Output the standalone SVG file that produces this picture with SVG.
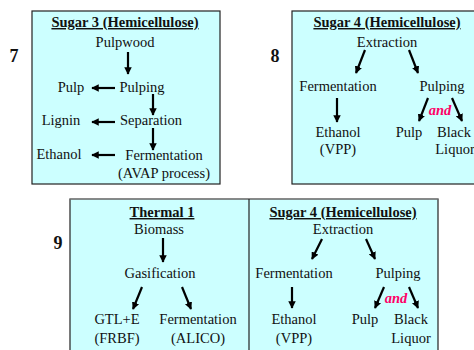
<svg xmlns="http://www.w3.org/2000/svg" width="474" height="350" viewBox="0 0 474 350">
<style>
.box{fill:#ccffff;stroke:#222;stroke-width:1.2}
text{font-family:'Liberation Serif',serif;font-size:14.5px;fill:#111;text-anchor:middle}
.t{font-weight:bold;text-decoration:underline}
.num{font-weight:bold;font-size:18px}
.and{font-weight:bold;font-style:italic;fill:#ff0066}
.a{stroke:#000;stroke-width:2.2;fill:none;marker-end:url(#ah)}
</style>
<defs>
<marker id="ah" viewBox="0 0 10 10" refX="9" refY="5" markerWidth="3.4" markerHeight="3.4" orient="auto" markerUnits="strokeWidth">
<path d="M0,0 L10,5 L0,10 Z" fill="#000"/>
</marker>
</defs>
<rect width="474" height="350" fill="#fff"/>

<g id="panel7">
<rect class="box" x="32" y="11" width="188" height="173"/>
<text class="num" x="14" y="62">7</text>
<text class="t" x="125" y="27">Sugar 3 (Hemicellulose)</text>
<text x="125" y="47">Pulpwood</text>
<text x="71" y="92">Pulp</text>
<text x="142" y="92">Pulping</text>
<text x="61" y="125">Lignin</text>
<text x="151" y="125">Separation</text>
<text x="59" y="159">Ethanol</text>
<text x="164" y="160">Fermentation</text>
<text x="164" y="178">(AVAP process)</text>
</g>

<g id="panel8">
<rect class="box" x="292" y="11" width="200" height="173"/>
<text class="num" x="275" y="62">8</text>
<text class="t" x="387" y="27">Sugar 4 (Hemicellulose)</text>
<text x="387" y="47">Extraction</text>
<text x="338" y="91">Fermentation</text>
<text x="442" y="91">Pulping</text>
<text class="and" x="440" y="115">and</text>
<text x="338" y="137">Ethanol</text>
<text x="338" y="154">(VPP)</text>
<text x="409" y="137">Pulp</text>
<text x="454" y="137">Black</text>
<text x="455" y="154">Liquor</text>
</g>

<g id="panel9">
<rect class="box" x="70" y="199" width="368" height="160"/>
<line x1="70" y1="199" x2="438" y2="199" stroke="#999" stroke-width="1.2"/>
<line x1="249" y1="199" x2="249" y2="350" stroke="#222" stroke-width="1.2"/>
<text class="num" x="58" y="249">9</text>
<text class="t" x="162" y="217">Thermal 1</text>
<text x="159" y="234">Biomass</text>
<text x="160" y="278">Gasification</text>
<text x="117" y="324">GTL+E</text>
<text x="117" y="343">(FRBF)</text>
<text x="198" y="324">Fermentation</text>
<text x="198" y="343">(ALICO)</text>
<text class="t" x="343" y="217">Sugar 4 (Hemicellulose)</text>
<text x="343" y="234">Extraction</text>
<text x="294" y="278">Fermentation</text>
<text x="398" y="278">Pulping</text>
<text class="and" x="396" y="303">and</text>
<text x="294" y="324">Ethanol</text>
<text x="294" y="343">(VPP)</text>
<text x="365" y="324">Pulp</text>
<text x="411" y="324">Black</text>
<text x="411" y="343">Liquor</text>
</g>

<g id="connectors">
<line class="a" x1="128" y1="52" x2="128" y2="74"/>
<line class="a" x1="115" y1="88" x2="92" y2="88"/>
<line class="a" x1="153" y1="94" x2="153" y2="115"/>
<line class="a" x1="115" y1="122" x2="92" y2="122"/>
<line class="a" x1="153" y1="128" x2="153" y2="150"/>
<line class="a" x1="115" y1="155" x2="92" y2="155"/>

<line class="a" x1="365" y1="50" x2="356" y2="73"/>
<line class="a" x1="409" y1="50" x2="418" y2="73"/>
<line class="a" x1="337" y1="98" x2="337" y2="122"/>
<line class="a" x1="428" y1="98" x2="419" y2="121"/>
<line class="a" x1="452" y1="98" x2="462" y2="121"/>

<line class="a" x1="163" y1="238" x2="163" y2="262"/>
<line class="a" x1="142" y1="287" x2="133" y2="309"/>
<line class="a" x1="182" y1="287" x2="191" y2="309"/>

<line class="a" x1="322" y1="239" x2="312" y2="259"/>
<line class="a" x1="366" y1="239" x2="375" y2="259"/>
<line class="a" x1="292" y1="287" x2="292" y2="308"/>
<line class="a" x1="384" y1="287" x2="375" y2="308"/>
<line class="a" x1="409" y1="287" x2="418" y2="308"/>
</g>
</svg>
